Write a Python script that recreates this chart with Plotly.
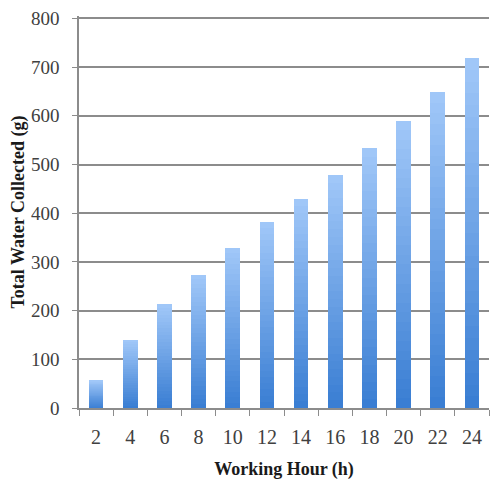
"""Total water collected vs working hour, bar chart with a vertical gradient."""

import plotly.graph_objects as go

hours = ["2", "4", "6", "8", "10", "12", "14", "16", "18", "20", "22", "24"]
water_collected = [57, 140, 213, 273, 329, 383, 429, 479, 534, 590, 648, 718]

y_ticks = [0, 100, 200, 300, 400, 500, 600, 700, 800]

# each bar is split into stacked slices so the fill fades from dark (bottom) to light (top)
SLICES = 30
dark = (58, 126, 211)
light = (160, 199, 248)


def slice_color(i):
    t = i / (SLICES - 1)
    r, g, b = (round(d + (l - d) * t) for d, l in zip(dark, light))
    return f"rgb({r},{g},{b})"


fig = go.Figure()
for i in range(SLICES):
    fig.add_trace(
        go.Bar(
            x=hours,
            y=[v / SLICES for v in water_collected],
            marker={"color": slice_color(i), "line": {"width": 0}},
            hoverinfo="skip" if i else None,
            showlegend=False,
        )
    )

# page body adds an 8px offset, so the figure is a bit smaller than the window
serif = "Liberation Serif"
fig.update_layout(
    barmode="stack",
    bargap=0.57,
    width=490,
    height=485,
    margin={"l": 71, "r": 9, "t": 8, "b": 85},
    paper_bgcolor="white",
    plot_bgcolor="white",
    font={"family": serif, "color": "#404040"},
)
fig.update_xaxes(
    type="category",
    automargin=False,
    tickson="boundaries",
    ticks="outside",
    ticklen=6,
    tickcolor="#8c8c8c",
    showline=True,
    linecolor="#8c8c8c",
    linewidth=1.5,
    showgrid=False,
    ticklabelstandoff=10,
    tickfont={"size": 20, "family": serif, "color": "#404040"},
    title={
        "text": "<b>Working Hour (h)</b>",
        "font": {"size": 18, "family": serif, "color": "#1a1a1a"},
        "standoff": 16,
    },
)
fig.update_yaxes(
    range=[0, 805],
    automargin=False,
    tickvals=y_ticks,
    ticklabeloverflow="allow",
    ticks="outside",
    ticklen=5,
    tickcolor="#8c8c8c",
    showline=True,
    linecolor="#8c8c8c",
    linewidth=1.5,
    showgrid=True,
    gridcolor="#8c8c8c",
    gridwidth=1.5,
    zeroline=False,
    ticklabelstandoff=9,
    tickfont={"size": 19, "family": serif, "color": "#404040"},
    title={
        "text": "<b>Total Water Collected (g)</b>",
        "font": {"size": 18, "family": serif, "color": "#1a1a1a"},
        "standoff": 20,
    },
)

fig.write_html("out.html")
